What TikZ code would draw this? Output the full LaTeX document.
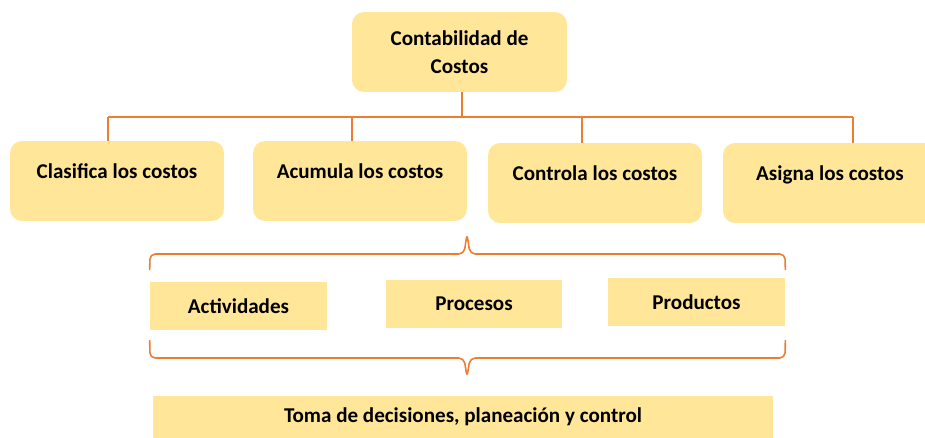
\documentclass[tikz,border=0pt]{standalone}
\usepackage{fontspec}
\setmainfont{Carlito}
\definecolor{boxfill}{HTML}{FFE699}
\definecolor{linecol}{HTML}{ED7D31}

\begin{document}
\begin{tikzpicture}[x=0.02cm, y=-0.02cm, font=\bfseries\fontsize{12}{16}\selectfont]
  \tikzstyle{head}=[rectangle, rounded corners=0.24cm, fill=boxfill, align=center, minimum width=4.3cm, minimum height=1.6cm, inner sep=0pt]
  \tikzstyle{task}=[rectangle, rounded corners=0.24cm, fill=boxfill, minimum width=4.28cm, inner xsep=0pt, inner ysep=0pt, text height=0.76cm, text depth=0.84cm]
  \tikzstyle{item}=[rectangle, fill=boxfill, minimum width=3.54cm, minimum height=0.96cm, inner sep=0pt]
  \tikzstyle{link}=[draw=linecol, line width=0.9pt]
  \tikzstyle{brace}=[draw=linecol, line width=0.9pt, rounded corners=3pt]

  \useasboundingbox (0,0) rectangle (925,438);

  \node[head] (ctb) at (459.5,52) {Contabilidad de\\Costos};

  \foreach \name / \x / \y / \verb in {1/117/181/Clasifica, 2/360/181/Acumula, 3/595/183/Controla, 4/830/183/Asigna}
    \node[task] (T-\name) at (\x,\y) {\verb\ los costos};

  \node[item] (act) at (238.5,306) {Actividades};
  \node[item] (pro) at (474,304) {Procesos};
  \node[item] (prd) at (696.5,302) {Productos};

  \node[rectangle, fill=boxfill, minimum width=12.4cm, minimum height=0.86cm, inner sep=0pt] (tdc) at (463,417) {Toma de decisiones, planeación y control};

  % tree lines
  \draw[link] (462,0 |- ctb.south) -- (462,117);
  \draw[link] (108,117) -- (853,117);
  \foreach \name / \dx in {1/108, 2/352, 3/582, 4/853}
    \draw[link] (\dx,117) -- (\dx,0 |- T-\name.north);

  % braces
  \draw[brace] (act.west |- 0,270) -- (150,254) -- (464,254) -- (467,234) -- (470,254) -- (785,254) -- (prd.east |- 0,270);
  \draw[brace] (act.west |- 0,340) -- (150,358) -- (464,358) -- (467,377) -- (470,358) -- (785,358) -- (prd.east |- 0,340);
\end{tikzpicture}
\end{document}
